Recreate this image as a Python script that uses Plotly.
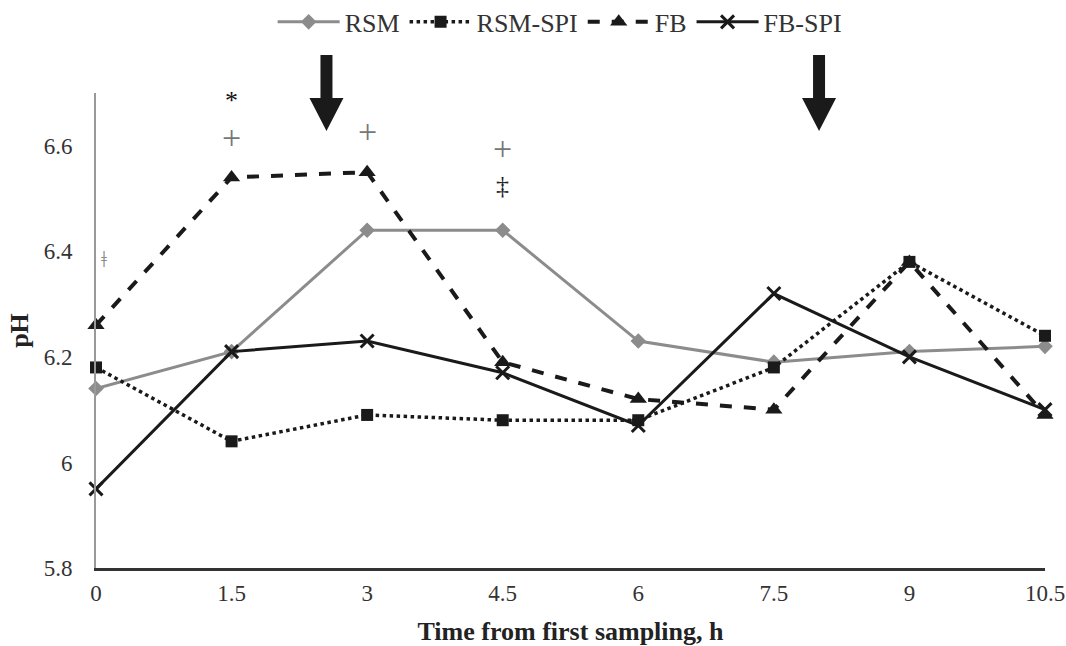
import plotly.graph_objects as go

time_h = [0, 1.5, 3, 4.5, 6, 7.5, 9, 10.5]
x_tick_labels = ["0", "1.5", "3", "4.5", "6", "7.5", "9", "10.5"]
y_tick_vals = [5.8, 6.0, 6.2, 6.4, 6.6]
y_tick_labels = ["5.8", "6", "6.2", "6.4", "6.6"]

rsm = [6.14, 6.21, 6.44, 6.44, 6.23, 6.19, 6.21, 6.22]
rsm_spi = [6.18, 6.04, 6.09, 6.08, 6.08, 6.18, 6.38, 6.24]
fb = [6.26, 6.54, 6.55, 6.19, 6.12, 6.10, 6.38, 6.09]
fb_spi = [5.95, 6.21, 6.23, 6.17, 6.07, 6.32, 6.20, 6.10]

# significance marks
sig_x = [1.5, 1.5, 3, 4.5, 4.5, 0.09]
sig_y = [6.685, 6.615, 6.628, 6.594, 6.524, 6.386]
sig_text = ["*", "+", "+", "+", "‡", "ǂ"]
sig_color = ["#111111", "#777777", "#777777", "#777777", "#222222", "#8a8a8a"]
sig_size = [26, 34, 34, 34, 26, 24]

# feeding arrows (x positions in hours)
arrow_x = [2.55, 8.0]
arrow_tip_y = 6.628

X_RANGE = [0, 10.5]
Y_RANGE = [5.8, 6.7]

FONT = "Liberation Serif"
GRAY = "#8c8c8c"
BLACK = "#1a1a1a"

fig = go.Figure()
fig.add_trace(go.Scatter(x=time_h, y=rsm, name="RSM", mode="lines+markers",
                         cliponaxis=False,
                         line=dict(color=GRAY, width=3),
                         marker=dict(symbol="diamond", size=12, color=GRAY)))
fig.add_trace(go.Scatter(x=time_h, y=rsm_spi, name="RSM-SPI", mode="lines+markers",
                         cliponaxis=False,
                         line=dict(color=BLACK, width=3.5, dash="dot"),
                         marker=dict(symbol="square", size=12, color=BLACK)))
fig.add_trace(go.Scatter(x=time_h, y=fb, name="FB", mode="lines+markers",
                         cliponaxis=False,
                         line=dict(color=BLACK, width=4, dash="dash"),
                         marker=dict(symbol="triangle-up", size=15, color=BLACK)))
fig.add_trace(go.Scatter(x=time_h, y=fb_spi, name="FB-SPI", mode="lines+markers",
                         cliponaxis=False,
                         line=dict(color=BLACK, width=3),
                         marker=dict(symbol="x-thin", size=13, color=BLACK,
                                     line=dict(width=3, color=BLACK))))

for xs, ys, t, c, s in zip(sig_x, sig_y, sig_text, sig_color, sig_size):
    fig.add_annotation(x=xs, y=ys, text=t, showarrow=False,
                       font=dict(family=FONT, size=s, color=c))

for ax_ in arrow_x:
    px = (ax_ - X_RANGE[0]) / (X_RANGE[1] - X_RANGE[0])
    py = (arrow_tip_y - Y_RANGE[0]) / (Y_RANGE[1] - Y_RANGE[0])
    fig.add_shape(type="path", xref="paper", yref="paper",
                  xsizemode="pixel", ysizemode="pixel",
                  xanchor=px, yanchor=py,
                  path="M 0 0 L -17 33 L -6 33 L -6 76 L 6 76 L 6 33 L 17 33 Z",
                  fillcolor=BLACK, line=dict(width=0))

fig.update_layout(
    width=1066, height=646,
    paper_bgcolor="white", plot_bgcolor="white",
    margin=dict(l=96, r=21, t=93, b=78, autoexpand=False),
    font=dict(family=FONT, size=22, color="#222222"),
    showlegend=True,
    legend=dict(orientation="h", x=0.525, xanchor="center", xref="container",
                y=0.966, yref="container", yanchor="middle",
                font=dict(family=FONT, size=26, color="#333333"),
                itemwidth=62, tracegroupgap=0),
    xaxis=dict(range=X_RANGE, tickvals=time_h, ticktext=x_tick_labels,
               showgrid=False, zeroline=False, showline=True, automargin=False,
               ticklabeloverflow="allow",
               linecolor="#333333", linewidth=2.5, ticks="", ticklabelstandoff=3,
               tickfont=dict(family=FONT, size=23, color="#333333"),
               title=dict(text="<b>Time from first sampling, h</b>",
                          font=dict(family=FONT, size=26, color="#222222"),
                          standoff=17)),
    yaxis=dict(range=Y_RANGE, tickvals=y_tick_vals, ticktext=y_tick_labels,
               showgrid=False, zeroline=False, showline=True, automargin=False,
               linecolor="#999999", linewidth=2, ticks="", ticklabelstandoff=17,
               tickfont=dict(family=FONT, size=23, color="#333333"),
               title=dict(text="<b>pH</b>",
                          font=dict(family=FONT, size=26, color="#222222"),
                          standoff=8)),
)

fig.write_html("out.html", config={"displayModeBar": False},
               post_script="document.body.style.margin='0';document.body.style.padding='0';document.body.style.overflow='hidden';")
